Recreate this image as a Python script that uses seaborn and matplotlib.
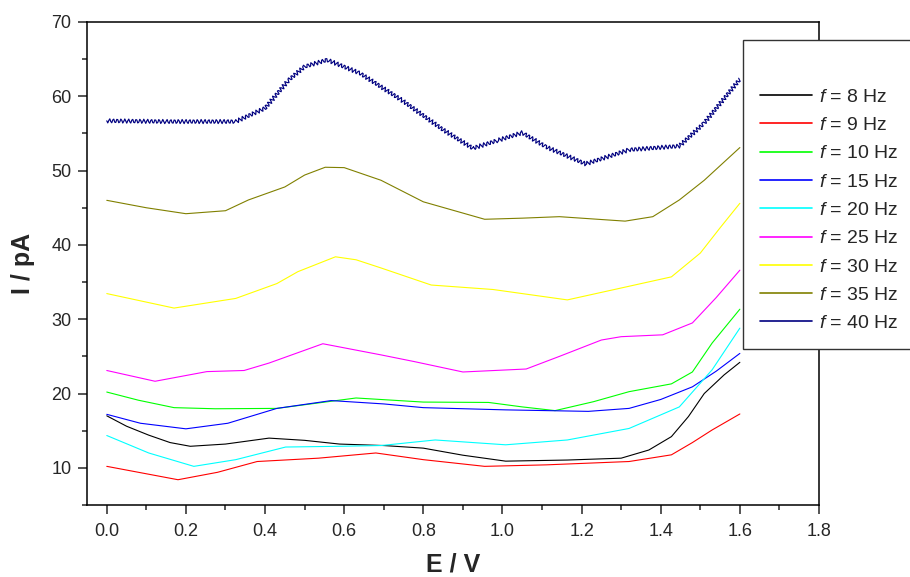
import matplotlib
matplotlib.use('Agg')
import pandas as pd
import matplotlib.pyplot as plt
import seaborn as sns
from matplotlib.ticker import MultipleLocator
from matplotlib.lines import Line2D

# Series labels and Origin-like colours
freqs = ['8', '9', '10', '15', '20', '25', '30', '35', '40']
colors = ['#000000', '#FF0000', '#00FF00', '#0000FF', '#00FFFF',
          '#FF00FF', '#FFFF00', '#808000', '#000080']

# Values (E in V, I in pA)
e_8 = [0.0, 0.05, 0.106, 0.16, 0.211, 0.3, 0.41, 0.5, 0.588, 0.7, 0.8, 0.9, 1.008, 1.164, 1.3, 1.37, 1.427, 1.47, 1.51, 1.56, 1.6]
i_8 = [17.0, 15.6, 14.4, 13.4, 12.9, 13.2, 14.0, 13.7, 13.2, 13.0, 12.65, 11.7, 10.9, 11.05, 11.3, 12.4, 14.2, 16.9, 20.0, 22.5, 24.2]

e_9 = [0.0, 0.09, 0.18, 0.28, 0.38, 0.535, 0.68, 0.8, 0.955, 1.11, 1.32, 1.427, 1.48, 1.53, 1.6]
i_9 = [10.2, 9.3, 8.4, 9.4, 10.85, 11.3, 12.0, 11.1, 10.2, 10.4, 10.85, 11.75, 13.4, 15.1, 17.25]

e_10 = [0.0, 0.08, 0.17, 0.274, 0.43, 0.53, 0.63, 0.8, 0.965, 1.05, 1.133, 1.23, 1.32, 1.427, 1.48, 1.53, 1.6]
i_10 = [20.2, 19.1, 18.1, 17.95, 18.0, 18.7, 19.4, 18.85, 18.8, 18.2, 17.7, 18.9, 20.25, 21.3, 22.9, 26.8, 31.35]

e_15 = [0.0, 0.085, 0.2, 0.306, 0.43, 0.567, 0.7, 0.8, 1.008, 1.217, 1.32, 1.4, 1.48, 1.54, 1.6]
i_15 = [17.2, 16.0, 15.25, 16.0, 18.0, 19.05, 18.6, 18.1, 17.8, 17.6, 18.0, 19.2, 20.9, 23.0, 25.4]

e_20 = [0.0, 0.106, 0.22, 0.326, 0.452, 0.588, 0.693, 0.83, 1.008, 1.164, 1.32, 1.447, 1.53, 1.6]
i_20 = [14.35, 12.0, 10.2, 11.1, 12.8, 12.9, 13.0, 13.75, 13.1, 13.75, 15.3, 18.2, 23.2, 28.8]

e_25 = [0.0, 0.122, 0.253, 0.347, 0.41, 0.546, 0.693, 0.777, 0.9, 1.06, 1.144, 1.25, 1.3, 1.405, 1.48, 1.54, 1.6]
i_25 = [23.1, 21.65, 22.95, 23.1, 24.1, 26.7, 25.2, 24.3, 22.9, 23.3, 25.0, 27.2, 27.65, 27.9, 29.5, 32.9, 36.6]

e_30 = [0.0, 0.17, 0.326, 0.43, 0.483, 0.578, 0.63, 0.693, 0.82, 0.976, 1.164, 1.3, 1.427, 1.5, 1.55, 1.6]
i_30 = [33.45, 31.5, 32.8, 34.8, 36.4, 38.4, 38.0, 36.9, 34.6, 34.0, 32.6, 34.2, 35.7, 38.9, 42.3, 45.6]

e_35 = [0.0, 0.1, 0.2, 0.3, 0.358, 0.45, 0.5, 0.552, 0.6, 0.693, 0.8, 0.955, 1.05, 1.144, 1.31, 1.38, 1.447, 1.51, 1.6]
i_35 = [46.0, 45.0, 44.2, 44.6, 46.05, 47.8, 49.4, 50.45, 50.4, 48.7, 45.8, 43.45, 43.6, 43.8, 43.2, 43.8, 46.05, 48.7, 53.1]

e_40 = [0.0, 0.15, 0.326, 0.4, 0.46, 0.5, 0.557, 0.64, 0.745, 0.85, 0.925, 0.99, 1.05, 1.11, 1.21, 1.32, 1.447, 1.51, 1.6]
i_40 = [56.7, 56.6, 56.6, 58.4, 62.2, 64.0, 64.9, 63.1, 59.5, 55.5, 53.0, 54.1, 55.1, 53.2, 50.9, 52.8, 53.3, 56.4, 62.3]

series_e = [e_8, e_9, e_10, e_15, e_20, e_25, e_30, e_35, e_40]
series_i = [i_8, i_9, i_10, i_15, i_20, i_25, i_30, i_35, i_40]

rows = []
for f, e_vals, i_vals in zip(freqs, series_e, series_i):
    for e, i in zip(e_vals, i_vals):
        rows.append({'E': e, 'I': i, 'f': f})
df = pd.DataFrame(rows)

sns.set_style('ticks')
plt.rcParams['font.family'] = ['Liberation Sans', 'DejaVu Sans']
plt.rcParams['mathtext.fontset'] = 'custom'
plt.rcParams['mathtext.rm'] = 'Liberation Sans'
plt.rcParams['mathtext.it'] = 'Liberation Sans:italic'

fig = plt.figure(figsize=(9.1, 5.77), dpi=100)
ax = fig.add_axes([0.0956, 0.1248, 0.9 - 0.0956, 0.9619 - 0.1248])

palette = dict(zip(freqs, colors))
sns.lineplot(data=df, x='E', y='I', hue='f', palette=palette, hue_order=freqs,
             units='f', estimator=None, sort=False, linewidth=0.8,
             legend=False, ax=ax)

# the 40 Hz trace is a fine zigzag in the reference
for line in ax.lines:
    if matplotlib.colors.to_hex(line.get_color()) == '#000080':
        line.set_sketch_params(2.1, 3.8, 1.0)
        line.set_linewidth(0.85)

ax.set_xlim(-0.05, 1.8)
ax.set_ylim(5, 70)
ax.set_xticks([0.0, 0.2, 0.4, 0.6, 0.8, 1.0, 1.2, 1.4, 1.6, 1.8])
ax.set_yticks([10, 20, 30, 40, 50, 60, 70])
ax.xaxis.set_minor_locator(MultipleLocator(0.1))
ax.yaxis.set_minor_locator(MultipleLocator(5))
ax.xaxis.set_major_formatter(matplotlib.ticker.FormatStrFormatter('%.1f'))

ax.tick_params(which='major', direction='out', length=6.5, width=1.1,
               labelsize=13, top=False, right=False)
ax.tick_params(axis='x', which='major', pad=6.5)
ax.tick_params(axis='y', which='major', pad=4.7)
ax.tick_params(which='minor', direction='out', length=3.6, width=1.1,
               top=False, right=False)
for s in ax.spines.values():
    s.set_visible(True)
    s.set_linewidth(1.1)
    s.set_color('black')

ax.set_xlabel('E / V', fontsize=18, fontweight='bold', labelpad=9)
ax.set_ylabel('I / pA', fontsize=18, fontweight='bold', labelpad=12)

handles = [Line2D([], [], color=c, linewidth=1.2) for c in colors]
names = ['$f$ = %s Hz' % f for f in freqs]
leg = ax.legend(handles, names, loc='upper left',
                bbox_to_anchor=(743 / 910, 1 - 40 / 577),
                bbox_transform=fig.transFigure, fontsize=14, title=' ',
                title_fontsize=16, frameon=True, fancybox=False,
                borderpad=0.85, labelspacing=0.55, handlelength=2.7,
                handletextpad=0.35, borderaxespad=0)
leg.get_frame().set_edgecolor('#333333')
leg.get_frame().set_linewidth(1.0)
leg.get_frame().set_alpha(1.0)

fig.savefig('out.png', dpi=100)
